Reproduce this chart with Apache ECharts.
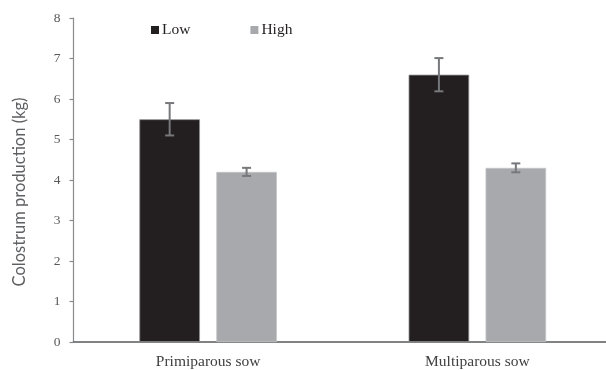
<!DOCTYPE html>
<html>
<head>
<meta charset="utf-8">
<script src="https://cdn.jsdelivr.net/npm/echarts@6/dist/echarts.min.js"></script>
<style>
  html, body { margin: 0; padding: 0; background: #fff; overflow: hidden; }
  /* the plot area runs slightly past the right edge of the window */
  #chart { width: 612px; height: 370px; }
</style>
</head>
<body>
<div id="chart"></div>
<script>
// Colostrum production by parity and group
const categories = ['Primiparous sow', 'Multiparous sow'];
const seriesNames = ['Low', 'High'];
const lowMean = [5.5, 6.6];
const lowErr = [0.4, 0.41];
const highMean = [4.2, 4.3];
const highErr = [0.1, 0.11];
const yTicks = [0, 1, 2, 3, 4, 5, 6, 7, 8];
const yTitle = 'Colostrum production (kg)';

const SERIF = '"Liberation Serif", "Times New Roman", serif';
const BAR_FRAC = 0.225;   // bar width as a share of the category band
const GAP_FRAC = 0.27;    // gap between paired bars as a share of bar width

const chart = echarts.init(document.getElementById('chart'), null, { renderer: 'canvas' });

function errorSeries(name, means, errs, side) {
  return {
    type: 'custom',
    name: name + ' SE',
    silent: true,
    z: 5,
    data: means.map((m, i) => [i, m, errs[i]]),
    renderItem: function (params, api) {
      const idx = api.value(0);
      const m = api.value(1);
      const e = api.value(2);
      const band = api.size([1, 0])[0];
      const bw = band * BAR_FRAC;
      const shift = side * (bw + bw * GAP_FRAC) / 2;
      const top = api.coord([idx, m + e]);
      const bot = api.coord([idx, m - e]);
      const x = top[0] + shift;
      const cap = 4.5;
      const style = { stroke: '#77787b', lineWidth: 2 };
      return {
        type: 'group',
        children: [
          { type: 'line', shape: { x1: x, y1: top[1], x2: x, y2: bot[1] }, style: style },
          { type: 'line', shape: { x1: x - cap, y1: top[1], x2: x + cap, y2: top[1] }, style: style },
          { type: 'line', shape: { x1: x - cap, y1: bot[1], x2: x + cap, y2: bot[1] }, style: style }
        ]
      };
    }
  };
}

const option = {
  animation: false,
  backgroundColor: '#ffffff',
  legend: {
    data: seriesNames,
    left: 146,
    top: 17,
    itemWidth: 8,
    itemHeight: 8,
    itemGap: 60,
    icon: 'rect',
    itemStyle: { borderWidth: 0 },
    textStyle: { fontFamily: SERIF, fontSize: 15.5, color: '#231f20', padding: [0, 0, 0, -2] }
  },
  // y-axis title, placed a little below the plot's middle
  graphic: [{
    type: 'text',
    x: 20,
    y: 192,
    rotation: Math.PI / 2,
    style: {
      text: yTitle,
      font: '16.5px Lato, "Open Sans", sans-serif',
      fill: '#5f6062',
      textAlign: 'center',
      textVerticalAlign: 'middle'
    }
  }],
  grid: { left: 73.5, right: 0, top: 18, bottom: 27.5 },
  xAxis: {
    type: 'category',
    data: categories,
    axisLine: { show: true, lineStyle: { color: '#58595b', width: 1.5 } },
    axisTick: { show: false },
    axisLabel: { fontFamily: SERIF, fontSize: 15.5, color: '#404040', margin: 12 }
  },
  yAxis: {
    type: 'value',
    min: yTicks[0],
    max: yTicks[yTicks.length - 1],
    interval: 1,
    axisLine: { show: true, lineStyle: { color: '#8a8b8d', width: 1.2 } },
    axisTick: { show: true, inside: false, length: 4, lineStyle: { color: '#8a8b8d', width: 1.2 } },
    axisLabel: { fontFamily: SERIF, fontSize: 13.5, color: '#58595b', margin: 13 },
    splitLine: { show: false }
  },
  series: [
    {
      type: 'bar',
      name: seriesNames[0],
      data: lowMean,
      barWidth: (BAR_FRAC * 100) + '%',
      barGap: (GAP_FRAC * 100) + '%',
      itemStyle: { color: '#231f20', borderColor: '#8e8e8e', borderWidth: 0.8 }
    },
    {
      type: 'bar',
      name: seriesNames[1],
      data: highMean,
      barWidth: (BAR_FRAC * 100) + '%',
      barGap: (GAP_FRAC * 100) + '%',
      itemStyle: { color: '#a7a9ac', borderColor: '#c4c5c7', borderWidth: 0.8 }
    },
    errorSeries(seriesNames[0], lowMean, lowErr, -1),
    errorSeries(seriesNames[1], highMean, highErr, 1)
  ]
};

chart.setOption(option);
</script>
</body>
</html>
